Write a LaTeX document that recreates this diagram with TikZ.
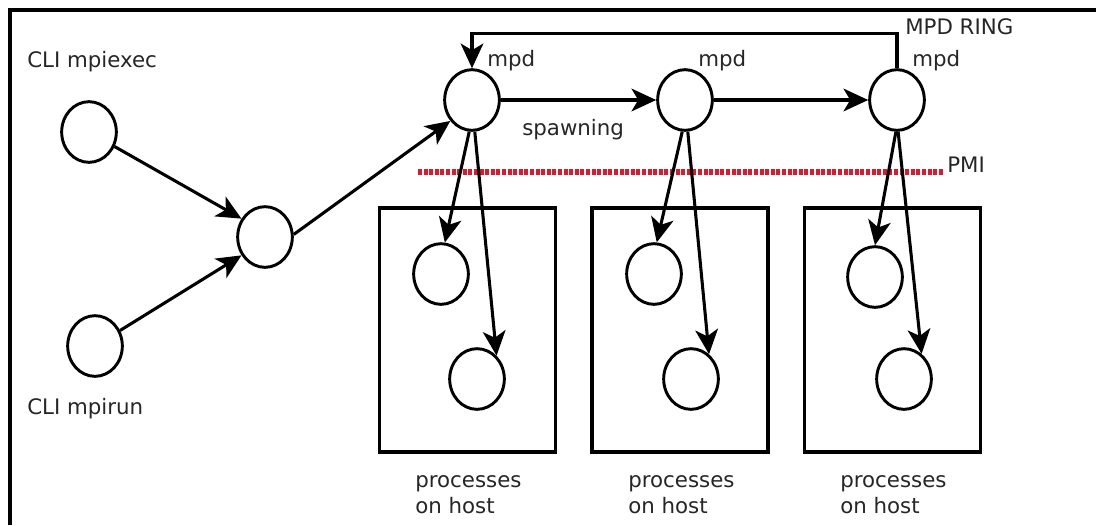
\documentclass[tikz,border=0pt]{standalone}
\usepackage{fontspec}
\setmainfont{DejaVu Sans}
\usetikzlibrary{shapes.geometric,arrows.meta}
\definecolor{pmired}{RGB}{220,25,45}
\begin{document}
\begin{tikzpicture}[x=0.75pt,y=-0.75pt,
  proc/.style={draw,ellipse,line width=2.2pt,minimum width=41pt,minimum height=45.5pt,inner sep=0pt},
  conn/.style={line width=2.3pt,-{Stealth[length=18.5pt,width=17pt,inset=5pt]}},
  hostbox/.style={draw,rectangle,line width=2.3pt,minimum width=132pt,minimum height=183pt,inner sep=0pt},
  lbl/.style={font=\fontsize{16pt}{19.5pt}\selectfont,text=black!85,inner sep=0pt,anchor=base west},
  pmi/.style={pmired,line width=4.5pt,dash pattern=on 3pt off 1.2pt},
  frameline/.style={line width=3pt}]
\useasboundingbox (0,0) rectangle (1096,525);
\draw[frameline] (10,525) -- (10,10) -- (1096,10);

% labels
\node[lbl] (tA) at (27,67) {CLI mpiexec};
\node[lbl] (tB) at (27,414) {CLI mpirun};
\node[lbl] (t1) at (487,66) {mpd};
\node[lbl] (t2) at (698,66) {mpd};
\node[lbl] (t3) at (912,66) {mpd};
\node[lbl] (tring) at (905,34) {MPD RING};
\node[lbl] (tspawn) at (522,135) {spawning};
\node[lbl] (tpmi) at (947,172) {PMI};

% PMI line
\coordinate (pmiL) at (418,172);
\coordinate (pmiR) at (943,172);
\draw[pmi] (pmiL) -- (pmiR);

% host boxes
\node[hostbox] (h1) at (467.5,330) {};
\node[hostbox] (h2) at (680,330) {};
\node[hostbox] (h3) at (892.5,330) {};
\node[lbl] (h1a) at (415,487) {processes};
\node[lbl] (h1b) at (415,513) {on host};
\node[lbl] (h2a) at (628,487) {processes};
\node[lbl] (h2b) at (628,513) {on host};
\node[lbl] (h3a) at (840,487) {processes};
\node[lbl] (h3b) at (840,513) {on host};

% circles
\node[proc] (A) at (89,132) {};
\node[proc] (B) at (95,346) {};
\node[proc] (C) at (265,237) {};
\node[proc] (m1) at (472,100) {};
\node[proc] (m2) at (685,100) {};
\node[proc] (m3) at (897,100) {};
\node[proc] (p1a) at (441,274) {};
\node[proc] (p2a) at (654,274) {};
\node[proc] (p3a) at (875,277) {};
\node[proc] (p1b) at (477,379) {};
\node[proc] (p2b) at (691,379) {};
\node[proc] (p3b) at (904,379) {};

% connectors
\draw[conn] (A) -- (C.142);
\draw[conn] (B) -- (C.218);
\draw[conn] (C.5) -- (m1.224);
\draw[conn] (m1) -- (m2);
\draw[conn] (m2) -- (m3);
\draw[conn] (m3.north) -- ++(0,-35) -| (m1.north);
\draw[conn] (m1.265) -- (p1a.83);
\draw[conn] (m1.275) -- (p1b.50);
\draw[conn] (m2.265) -- (p2a.85);
\draw[conn] (m2.275) -- (p2b.54);
\draw[conn] (m3.268) -- (p3a.90);
\draw[conn] (m3.272) -- (p3b.55);
\end{tikzpicture}
\end{document}
